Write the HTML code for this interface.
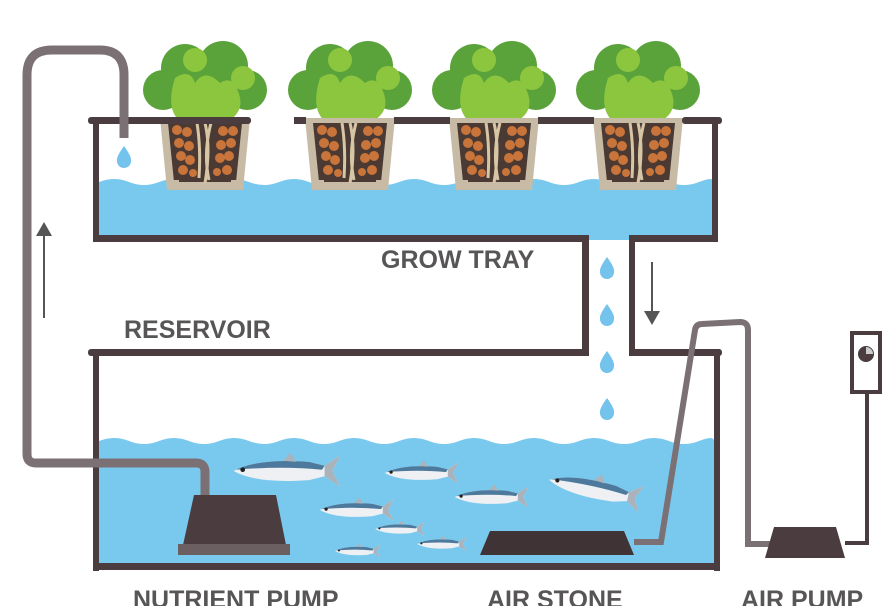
<!DOCTYPE html>
<html><head><style>
body{margin:0;background:#fff;}
svg{display:block;}
text{font-family:"Liberation Sans",sans-serif;font-weight:bold;fill:#575555;}
</style></head><body>
<svg width="888" height="606" viewBox="0 0 888 606" xmlns="http://www.w3.org/2000/svg">
<defs>
<g id="fish">
  <path d="M-38,0 Q-20,-10 20,-7 L32,-4 L44,-12 L38,0 L44,12 L32,4 L20,7 Q-20,10 -38,0Z" fill="#eef0f3"/>
  <path d="M-38,0 Q-20,-10 20,-7 L32,-4 L30,-1 Q0,-4 -36,-1Z" fill="#4d7a9c"/>
  <path d="M32,-4 L44,-12 L38,0 L44,12 L32,4Z" fill="#aab3bb"/>
  <path d="M0,-8 L6,-14 L10,-7Z" fill="#aab3bb"/>
  <circle cx="-31" cy="-1" r="1.8" fill="#222"/>
</g>
<g id="plant">
  <circle cx="-42" cy="-28" r="20" fill="#5aa23a"/>
  <circle cx="42" cy="-28" r="20" fill="#5aa23a"/>
  <circle cx="-20" cy="-50" r="24" fill="#5aa23a"/>
  <circle cx="18" cy="-52" r="25" fill="#5aa23a"/>
  <circle cx="0" cy="-25" r="30" fill="#5aa23a"/>
  <path d="M-30,-40 q15,-10 20,5 q10,-15 25,0 q12,-8 18,8 q8,20 -10,30 l-40,5 q-25,-10 -13,-48Z" fill="#8cc63f"/>
  <circle cx="-10" cy="-58" r="12" fill="#8cc63f"/>
  <circle cx="38" cy="-40" r="12" fill="#8cc63f"/>
  <path d="M-45,0 L45,0 L38,72 L-38,72Z" fill="#c8bba5"/>
  <path d="M-37,5 L37,5 L31,64 L-31,64Z" fill="#4a3a33"/>
  <g fill="#c8743a">
   <circle cx="-28" cy="12" r="5"/><circle cx="-18" cy="14" r="5"/><circle cx="18" cy="13" r="5"/><circle cx="28" cy="13" r="5"/>
   <circle cx="-26" cy="25" r="5"/><circle cx="-16" cy="28" r="5"/><circle cx="16" cy="27" r="5"/><circle cx="26" cy="25" r="5"/>
   <circle cx="-24" cy="38" r="5"/><circle cx="-15" cy="42" r="5"/><circle cx="15" cy="40" r="5"/><circle cx="24" cy="38" r="5"/>
   <circle cx="-22" cy="52" r="5"/><circle cx="-12" cy="55" r="4"/><circle cx="12" cy="54" r="4"/><circle cx="22" cy="52" r="5"/>
  </g>
  <path d="M-8,5 Q-4,30 -6,60 M0,5 Q6,30 0,65 M6,5 Q-2,35 4,62" stroke="#d6c6a6" stroke-width="3" fill="none"/>
  <path d="M-38,62 L-26,62 L-26,72 L-38,72Z M26,62 L38,62 L38,72 L26,72Z M-14,64 L-6,64 L-6,72 L-14,72Z M6,64 L14,64 L14,72 L6,72Z" fill="#c8bba5"/>
</g>
<path id="drop" d="M0,-11 Q8,0 7,4 A7,7 0 0 1 -7,4 Q-8,0 0,-11Z" fill="#73c3ec"/>
</defs>

<path d="M99,182 q15,-6 30,0 t30,0 t30,0 t30,0 t30,0 t30,0 t30,0 t30,0 t30,0 t30,0 t30,0 t30,0 t30,0 t30,0 t30,0 t30,0 t30,0 t30,0 t30,0 t30,0 t14,0 L713,236 L99,236Z" fill="#79c9ee"/>
<rect x="588" y="234" width="42" height="6" fill="#79c9ee"/>
<path d="M99,441 q15,-6 30,0 t30,0 t30,0 t30,0 t30,0 t30,0 t30,0 t30,0 t30,0 t30,0 t30,0 t30,0 t30,0 t30,0 t30,0 t30,0 t30,0 t30,0 t30,0 t30,0 t15,0 L715,564 L99,564Z" fill="#79c9ee"/>

<use href="#plant" x="205" y="118"/>
<use href="#plant" x="350" y="118"/>
<use href="#plant" x="494" y="118"/>
<use href="#plant" x="638" y="118"/>

<g fill="#4a3c3f">
 <rect x="88" y="117" width="163" height="7" rx="3"/>
 <rect x="294" y="117" width="12" height="7"/>
 <rect x="394" y="117" width="56" height="7"/>
 <rect x="538" y="117" width="56" height="7"/>
 <rect x="682" y="117" width="40" height="7" rx="3"/>
 <rect x="93" y="117" width="6" height="125"/>
 <rect x="712" y="117" width="6" height="125"/>
 <rect x="93" y="235" width="496" height="7"/>
 <rect x="629" y="235" width="89" height="7"/>
 <rect x="582" y="235" width="7" height="121"/>
 <rect x="629" y="235" width="6" height="121"/>
 <rect x="88" y="349" width="501" height="7" rx="3"/>
 <rect x="629" y="349" width="93" height="7" rx="3"/>
 <rect x="93" y="349" width="6" height="222"/>
 <rect x="714" y="349" width="6" height="222"/>
 <rect x="93" y="563" width="627" height="7"/>
</g>

<path d="M205,497 L205,472 Q205,463 196,463 L36,463 Q27,463 27,454 L27,75 Q27,50 52,50 L100,50 Q124,50 124,75 L124,138" stroke="#7b7174" stroke-width="9" fill="none"/>
<path d="M194,495 L276,495 L286,545 L183,545Z" fill="#4a3c3f"/>
<rect x="178" y="544" width="112" height="11" fill="#6b5f61"/>

<path d="M490,531 L624,531 L634,555 L480,555Z" fill="#3f3335"/>
<path d="M634,542 L661,542 L695,330 Q696,324 702,324 L740,322 Q748,322 748,330 L748,544 L772,544" stroke="#7b7174" stroke-width="6" fill="none"/>
<path d="M774,527 L836,527 L845,558 L765,558Z" fill="#4a3c3f"/>
<path d="M845,543 L867,543 L867,392" stroke="#4a3c3f" stroke-width="4" fill="none"/>
<rect x="852" y="333" width="28" height="59" fill="#fff" stroke="#4a3c3f" stroke-width="4"/>
<circle cx="866" cy="354" r="8" fill="#4a3c3f"/>
<path d="M866,354 L866,347 A7,7 0 0 1 873,354Z" fill="#ccc"/>

<use href="#drop" x="124" y="157"/>
<use href="#drop" x="607" y="268"/>
<use href="#drop" x="607" y="315"/>
<use href="#drop" x="607" y="362"/>
<use href="#drop" x="607" y="409"/>

<path d="M44,318 L44,232" stroke="#555" stroke-width="2"/>
<path d="M36,236 L44,222 L52,236Z" fill="#555"/>
<path d="M652,262 L652,315" stroke="#555" stroke-width="2"/>
<path d="M644,311 L652,325 L660,311Z" fill="#555"/>

<use href="#fish" transform="translate(283,471) scale(1.3)"/>
<use href="#fish" transform="translate(419,473) scale(0.9)"/>
<use href="#fish" transform="translate(592,489) rotate(12) scale(1.15)"/>
<use href="#fish" transform="translate(489,497) scale(0.9)"/>
<use href="#fish" transform="translate(354,510) scale(0.9)"/>
<use href="#fish" transform="translate(398,529) scale(0.6)"/>
<use href="#fish" transform="translate(440,544) scale(0.6)"/>
<use href="#fish" transform="translate(356,551) scale(0.55)"/>

<text x="381" y="268" font-size="25">GROW TRAY</text>
<text x="124" y="338" font-size="25">RESERVOIR</text>
<text x="133" y="608" font-size="25">NUTRIENT PUMP</text>
<text x="487" y="608" font-size="25">AIR STONE</text>
<text x="741" y="608" font-size="25">AIR PUMP</text>
</svg>
</body></html>
